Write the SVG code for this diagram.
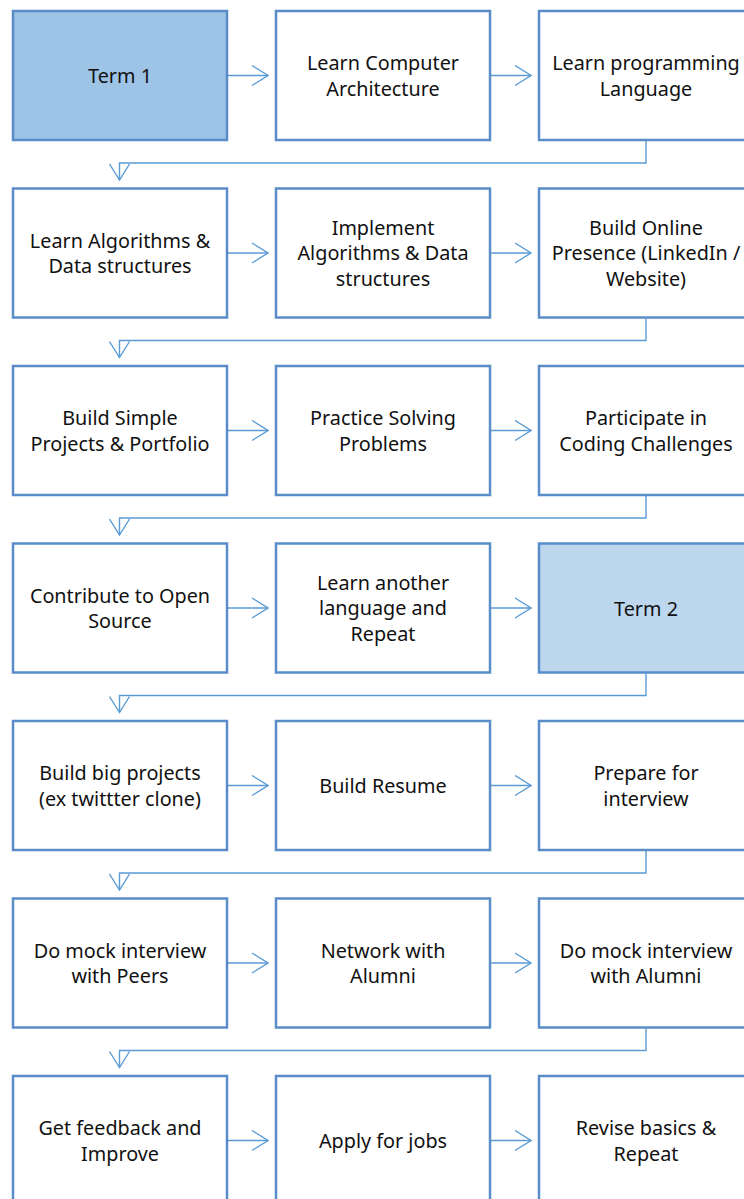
<svg xmlns="http://www.w3.org/2000/svg" width="744" height="1199" viewBox="0 0 744 1199">
<defs>
<style>
.box{fill:#ffffff;stroke:#5a8dc8;stroke-width:2.5}
.t1{fill:#9dc3e6}
.t2{fill:#bdd7ee}
.lbl{font-family:"Noto Sans","Open Sans",sans-serif;font-size:19.8px;fill:#111111;text-anchor:middle}
.con{fill:none;stroke:#5b9bd5;stroke-width:1.4}
</style>
<marker id="ah" viewBox="0 0 20 22" refX="19" refY="11" markerWidth="20" markerHeight="22" markerUnits="userSpaceOnUse" orient="auto">
<path d="M3,1 L19,11 L3,21" fill="none" stroke="#5b9bd5" stroke-width="1.4"/>
</marker>
</defs>
<rect width="744" height="1199" fill="#ffffff"/>

<g id="connectors">
<!-- row 1 -->
<line class="con" x1="228" y1="75.5" x2="268" y2="75.5" marker-end="url(#ah)"/>
<line class="con" x1="491" y1="75.5" x2="531" y2="75.5" marker-end="url(#ah)"/>
<polyline class="con" points="646,141 646,163 119.5,163 119.5,180" marker-end="url(#ah)"/>
<!-- row 2 -->
<line class="con" x1="228" y1="253" x2="268" y2="253" marker-end="url(#ah)"/>
<line class="con" x1="491" y1="253" x2="531" y2="253" marker-end="url(#ah)"/>
<polyline class="con" points="646,318.5 646,340.5 119.5,340.5 119.5,357.5" marker-end="url(#ah)"/>
<!-- row 3 -->
<line class="con" x1="228" y1="430.5" x2="268" y2="430.5" marker-end="url(#ah)"/>
<line class="con" x1="491" y1="430.5" x2="531" y2="430.5" marker-end="url(#ah)"/>
<polyline class="con" points="646,496 646,518 119.5,518 119.5,535" marker-end="url(#ah)"/>
<!-- row 4 -->
<line class="con" x1="228" y1="608" x2="268" y2="608" marker-end="url(#ah)"/>
<line class="con" x1="491" y1="608" x2="531" y2="608" marker-end="url(#ah)"/>
<polyline class="con" points="646,673.5 646,695.5 119.5,695.5 119.5,712.5" marker-end="url(#ah)"/>
<!-- row 5 -->
<line class="con" x1="228" y1="785.5" x2="268" y2="785.5" marker-end="url(#ah)"/>
<line class="con" x1="491" y1="785.5" x2="531" y2="785.5" marker-end="url(#ah)"/>
<polyline class="con" points="646,851 646,873 119.5,873 119.5,890" marker-end="url(#ah)"/>
<!-- row 6 -->
<line class="con" x1="228" y1="963" x2="268" y2="963" marker-end="url(#ah)"/>
<line class="con" x1="491" y1="963" x2="531" y2="963" marker-end="url(#ah)"/>
<polyline class="con" points="646,1028.5 646,1050.5 119.5,1050.5 119.5,1067.5" marker-end="url(#ah)"/>
<!-- row 7 -->
<line class="con" x1="228" y1="1140.5" x2="268" y2="1140.5" marker-end="url(#ah)"/>
<line class="con" x1="491" y1="1140.5" x2="531" y2="1140.5" marker-end="url(#ah)"/>
</g>

<g id="n1"><rect class="box t1" x="13" y="11" width="214" height="129"/><text class="lbl" x="120" y="82.5">Term 1</text></g>
<g id="n2"><rect class="box" x="276" y="11" width="214" height="129"/><text class="lbl" x="383" y="70">Learn Computer</text><text class="lbl" x="383" y="95.5">Architecture</text></g>
<g id="n3"><rect class="box" x="539" y="11" width="214" height="129"/><text class="lbl" x="646" y="70">Learn programming</text><text class="lbl" x="646" y="95.5">Language</text></g>

<g id="n4"><rect class="box" x="13" y="188.5" width="214" height="129"/><text class="lbl" x="120" y="247.5">Learn Algorithms &amp;</text><text class="lbl" x="120" y="273">Data structures</text></g>
<g id="n5"><rect class="box" x="276" y="188.5" width="214" height="129"/><text class="lbl" x="383" y="234.5">Implement</text><text class="lbl" x="383" y="260">Algorithms &amp; Data</text><text class="lbl" x="383" y="285.5">structures</text></g>
<g id="n6"><rect class="box" x="539" y="188.5" width="214" height="129"/><text class="lbl" x="646" y="234.5">Build Online</text><text class="lbl" x="646" y="260">Presence (LinkedIn /</text><text class="lbl" x="646" y="285.5">Website)</text></g>

<g id="n7"><rect class="box" x="13" y="366" width="214" height="129"/><text class="lbl" x="120" y="425">Build Simple</text><text class="lbl" x="120" y="450.5">Projects &amp; Portfolio</text></g>
<g id="n8"><rect class="box" x="276" y="366" width="214" height="129"/><text class="lbl" x="383" y="425">Practice Solving</text><text class="lbl" x="383" y="450.5">Problems</text></g>
<g id="n9"><rect class="box" x="539" y="366" width="214" height="129"/><text class="lbl" x="646" y="425">Participate in</text><text class="lbl" x="646" y="450.5">Coding Challenges</text></g>

<g id="n10"><rect class="box" x="13" y="543.5" width="214" height="129"/><text class="lbl" x="120" y="602.5">Contribute to Open</text><text class="lbl" x="120" y="628">Source</text></g>
<g id="n11"><rect class="box" x="276" y="543.5" width="214" height="129"/><text class="lbl" x="383" y="589.5">Learn another</text><text class="lbl" x="383" y="615">language and</text><text class="lbl" x="383" y="640.5">Repeat</text></g>
<g id="n12"><rect class="box t2" x="539" y="543.5" width="214" height="129"/><text class="lbl" x="646" y="615.5">Term 2</text></g>

<g id="n13"><rect class="box" x="13" y="721" width="214" height="129"/><text class="lbl" x="120" y="780">Build big projects</text><text class="lbl" x="120" y="805.5">(ex twittter clone)</text></g>
<g id="n14"><rect class="box" x="276" y="721" width="214" height="129"/><text class="lbl" x="383" y="792.5">Build Resume</text></g>
<g id="n15"><rect class="box" x="539" y="721" width="214" height="129"/><text class="lbl" x="646" y="780">Prepare for</text><text class="lbl" x="646" y="805.5">interview</text></g>

<g id="n16"><rect class="box" x="13" y="898.5" width="214" height="129"/><text class="lbl" x="120" y="957.5">Do mock interview</text><text class="lbl" x="120" y="983">with Peers</text></g>
<g id="n17"><rect class="box" x="276" y="898.5" width="214" height="129"/><text class="lbl" x="383" y="957.5">Network with</text><text class="lbl" x="383" y="983">Alumni</text></g>
<g id="n18"><rect class="box" x="539" y="898.5" width="214" height="129"/><text class="lbl" x="646" y="957.5">Do mock interview</text><text class="lbl" x="646" y="983">with Alumni</text></g>

<g id="n19"><rect class="box" x="13" y="1076" width="214" height="129"/><text class="lbl" x="120" y="1135">Get feedback and</text><text class="lbl" x="120" y="1160.5">Improve</text></g>
<g id="n20"><rect class="box" x="276" y="1076" width="214" height="129"/><text class="lbl" x="383" y="1147.5">Apply for jobs</text></g>
<g id="n21"><rect class="box" x="539" y="1076" width="214" height="129"/><text class="lbl" x="646" y="1135">Revise basics &amp;</text><text class="lbl" x="646" y="1160.5">Repeat</text></g>
</svg>
